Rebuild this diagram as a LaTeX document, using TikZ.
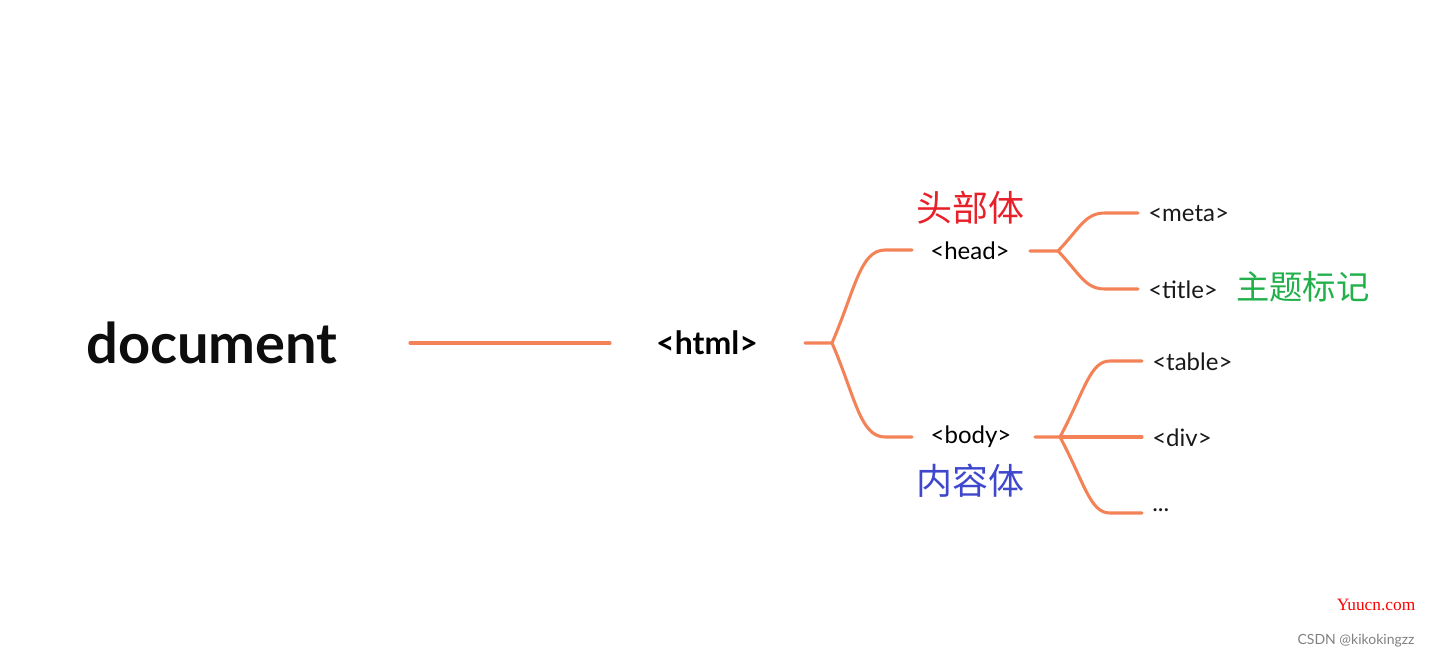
\documentclass[tikz,border=0pt]{standalone}
\usepackage{fontspec}
\setmainfont{Lato}
\newfontfamily\cjk{Noto Sans CJK SC}
\newfontfamily\wm{Liberation Serif}
\definecolor{br}{HTML}{F48257}
\definecolor{redc}{HTML}{E8202A}
\definecolor{greenc}{HTML}{22B04B}
\definecolor{bluec}{HTML}{3F48CC}
\begin{document}
\begin{tikzpicture}[x=0.75pt,y=-0.75pt,
  lk/.style={draw=br,line width=2.3pt,line cap=round},
  lbl/.style={inner sep=0pt,anchor=west,font=\fontsize{18}{20}\selectfont,text=black!90}]
\useasboundingbox (0,0) rectangle (1437,660);
\node[inner sep=0pt,font=\bfseries\fontsize{42}{48}\selectfont,text=black!95] (doc) at (212,343) {document};
\coordinate (d1) at (410,343); \coordinate (d2) at (610,343);
\draw[lk] (d1)--(d2);
\node[inner sep=0pt,font=\bfseries\fontsize{24}{28}\selectfont] (html) at (707,343) {<html>};
\coordinate (h0) at (805,343); \coordinate (h1) at (832,343);
\coordinate (hh) at (912,250); \coordinate (hb) at (912,437);
\draw[lk] (h0)--(h1) .. controls (855,290) and (860,250) .. (885,250) -- (hh);
\draw[lk] (h1) .. controls (855,396) and (860,437) .. (885,437) -- (hb);
\node[inner sep=0pt,font=\fontsize{18}{20}\selectfont] (head) at (970,251) {<head>};
\node[inner sep=0pt,font=\cjk\fontsize{27}{30}\selectfont,text=redc] (hz) at (970,208) {头部体};
\node[inner sep=0pt,font=\fontsize{18}{20}\selectfont] (body) at (971,437) {<body>};
\node[inner sep=0pt,font=\cjk\fontsize{27}{30}\selectfont,text=bluec] (bz) at (970,481) {内容体};
\coordinate (e0) at (1030,251); \coordinate (e1) at (1058,251);
\draw[lk] (e0)--(e1) .. controls (1080,228) and (1085,213) .. (1105,213) -- (1138,213);
\draw[lk] (e1) .. controls (1080,274) and (1085,289) .. (1105,289) -- (1138,289);
\node[lbl] (meta) at (1148,214) {<meta>};
\node[lbl] (title) at (1148,290) {<title>};
\node[inner sep=0pt,anchor=west,font=\cjk\fontsize{25}{28}\selectfont,text=greenc] (tz) at (1236,287) {主题标记};
\coordinate (b0) at (1035,437); \coordinate (b1) at (1060,437);
\draw[lk] (b0)--(b1) .. controls (1085,390) and (1090,361) .. (1110,361) -- (1142,361);
\draw[lk] (b1)--(1142,437);
\draw[lk] (b1) .. controls (1085,484) and (1090,513) .. (1110,513) -- (1142,513);
\node[lbl] (table) at (1152,362) {<table>};
\node[lbl] (div) at (1152,438) {<div>};
\node[lbl] (dots) at (1152,510) {...};
\node[inner sep=0pt,font=\wm\fontsize{13}{15}\selectfont,text=red] (yc) at (1376,605) {Yuucn.com};
\node[inner sep=0pt,font=\fontsize{10.5}{12}\selectfont,text=gray] (cs) at (1356,641) {CSDN @kikokingzz};
\end{tikzpicture}
\end{document}
